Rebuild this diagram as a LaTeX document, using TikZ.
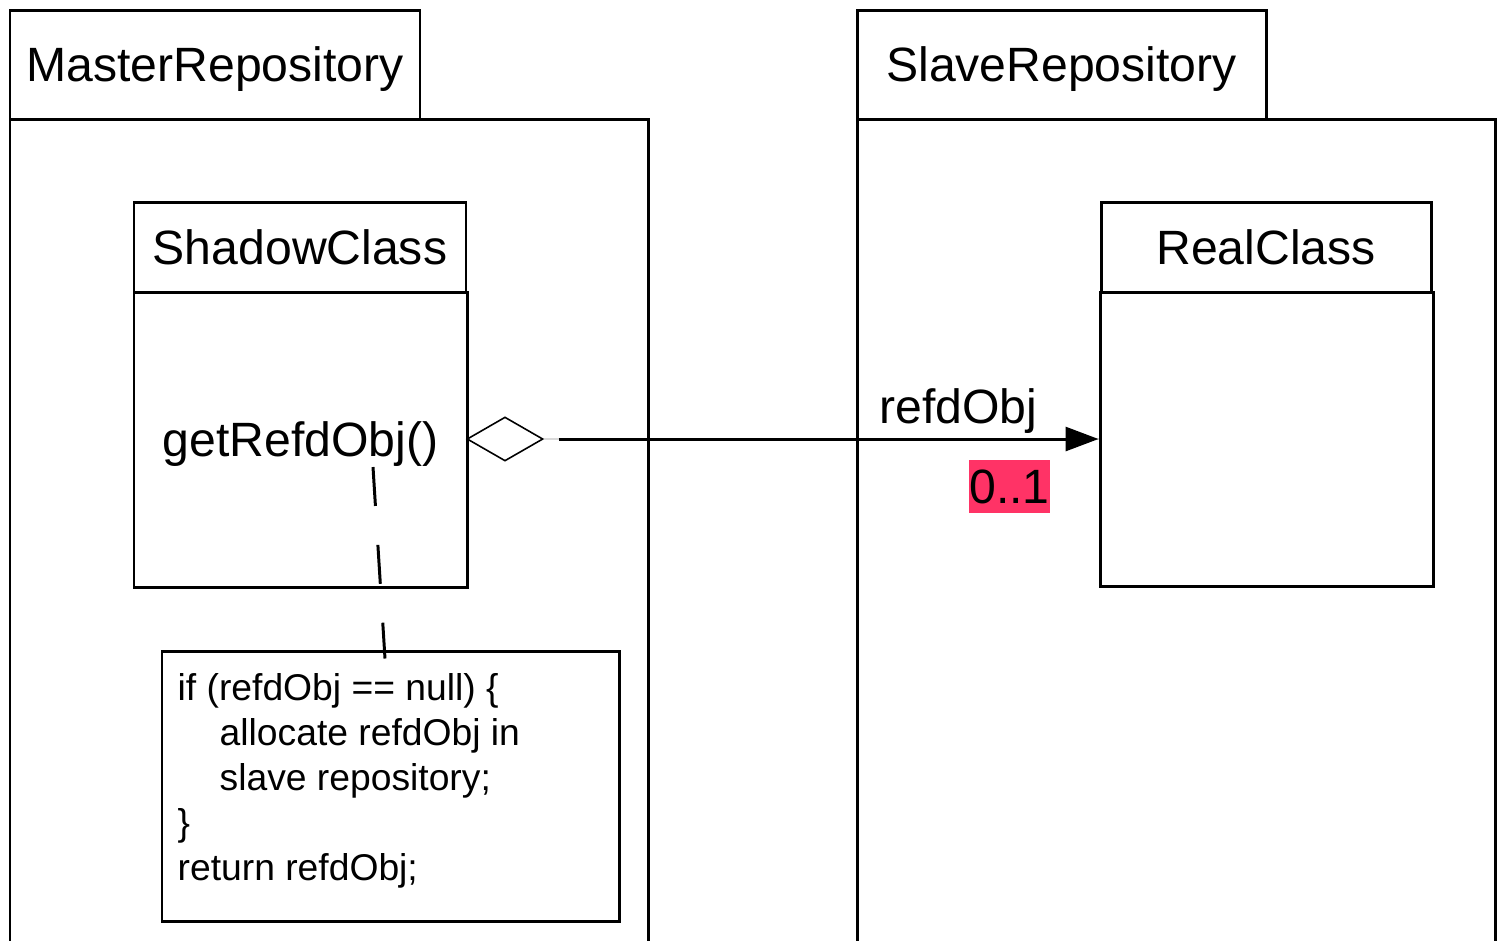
\documentclass[tikz,border=0pt]{standalone}
\usepackage{xcolor}
\usepackage{fontspec}
\setmainfont{Liberation Sans}
\usetikzlibrary{shapes.geometric,arrows.meta}
\definecolor{multpink}{HTML}{FF3366}

\begin{document}
\begin{tikzpicture}[
    bigtext/.style={font=\fontsize{13.7}{16}\selectfont, text height=0.34cm, text depth=0pt},
    box/.style={rectangle, draw, line width=0.85pt, inner sep=0pt, bigtext},
]
        \useasboundingbox (0,0) rectangle (14.98,-9.40);
        \clip (0,0) rectangle (14.98,-9.40);

        % Master repository
        \node[box, minimum width=4.10cm, minimum height=1.09cm] (mastertab) at (2.15,-0.645) {MasterRepository};
        \node[box, minimum width=6.38cm, minimum height=8.60cm] (masterbody) at (3.29,-5.49) {};

        % Shadow class
        \node[box, minimum width=3.32cm, minimum height=0.90cm] (shadowhead) at (3.00,-2.475) {ShadowClass};
        \node[box, minimum width=3.33cm, minimum height=2.95cm] (shadowbody) at (3.005,-4.395) {};
        \node[bigtext] (method) at (shadowbody.center) {getRefdObj()};

        % Note
        \node[box, minimum width=4.57cm, minimum height=2.70cm] (note) at (3.905,-7.86) {};
        \node[anchor=north west, align=left, inner sep=0pt, font=\fontsize{10.6}{12.8}\selectfont] (code) at (1.77,-6.73) {if (refdObj == null) \{\\\hspace*{0.42cm}allocate refdObj in\\\hspace*{0.42cm}slave repository;\\\}\\return refdObj;};
        \coordinate (dashtop) at (3.73,-4.67);
        \draw[line width=0.85pt, dash pattern=on 0.39cm off 0.39cm] (dashtop) -- ([shift={(-0.055,-0.09)}]note.north);

        % Slave repository
        \node[box, minimum width=4.09cm, minimum height=1.09cm] (slavetab) at (10.615,-0.645) {SlaveRepository};
        \node[box, minimum width=6.38cm, minimum height=8.60cm] (slavebody) at (11.76,-5.49) {};

        % Real class
        \node[box, minimum width=3.30cm, minimum height=0.90cm] (realhead) at (12.66,-2.47) {RealClass};
        \node[box, minimum width=3.33cm, minimum height=2.94cm] (realbody) at (12.665,-4.39) {};

        % Association
        \node[diamond, draw, line width=0.45pt, aspect=1.727, minimum width=0.76cm, minimum height=0.44cm, inner sep=0pt] (agg) at (5.05,-4.39) {};
        \draw[gray!30, line width=0.4pt] (agg.east) -- (realbody.west);
        \draw[line width=0.85pt, -{Triangle[length=0.33cm, width=0.24cm]}, shorten <=0.15cm] (agg.east) -- (realbody.west);

        % Labels
        \node[anchor=base, font=\fontsize{13.7}{16}\selectfont] (role) at (9.585,-4.23) {refdObj};
        \node[fill=multpink, minimum width=0.81cm, minimum height=0.53cm, inner sep=0pt, bigtext] (mult) at (10.095,-4.865) {0..1};
    \end{tikzpicture}
\end{document}
